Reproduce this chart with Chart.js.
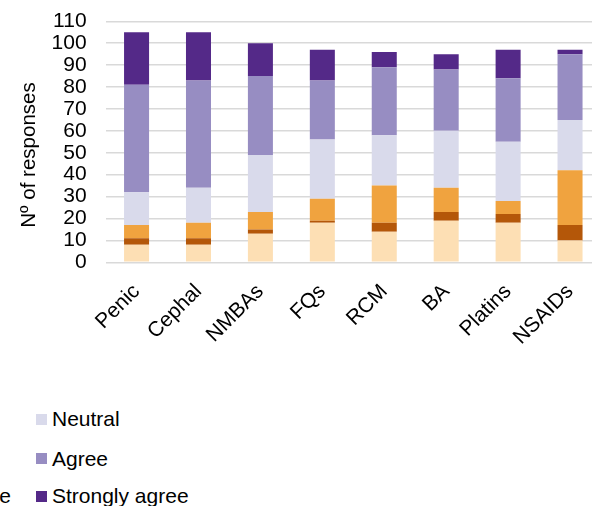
<!DOCTYPE html>
<html><head><meta charset="utf-8">
<script src="https://cdn.jsdelivr.net/npm/chart.js@4.4.1/dist/chart.umd.min.js"></script>
<style>
html,body{margin:0;padding:0;background:#fff;overflow:hidden;width:592px;height:506px;}
#wrap{position:absolute;left:0;top:0;width:601px;height:360px;}
.leg{position:absolute;top:0;font-family:"Liberation Sans",Arial,sans-serif;font-size:21px;color:#000;white-space:nowrap;width:max-content;height:506px;}
.item{position:absolute;left:0;display:flex;align-items:center;height:30px;}
.sw{width:11px;height:11px;margin-right:5px;flex:none;}
</style></head><body>
<div id="wrap"><canvas id="c"></canvas></div>
<div id="legL" class="leg"></div>
<div id="legR" class="leg" style="left:36px"></div>
<script>
const categories = ["Penic","Cephal","NMBAs","FQs","RCM","BA","Platins","NSAIDs"];
const seriesNames = ["Strongly disagree","Disagree","Somewhat disagree","Neutral","Agree","Strongly agree"];
const seriesColors = ["#FDDFB4","#B45709","#F0A33F","#D9DAEB","#978DC2","#542988"];
const stronglyDisagree = [8,8,13,18,14,19,18,10];
const disagree        = [3,3,2,1,4,4,4,7];
const somewhatDisagree= [6,7,8,10,17,11,6,25];
const neutral         = [15,16,26,27,23,26,27,23];
const agree           = [49,49,36,27,31,28,29,30];
const stronglyAgree   = [24,22,15,14,7,7,13,2];
const yTickLabels = ["0","10","20","30","40","50","60","70","80","90","100","110"];
const yTitle = "Nº of responses";

const seriesValues = [stronglyDisagree,disagree,somewhatDisagree,neutral,agree,stronglyAgree];

Chart.defaults.font.family = "'Liberation Sans', Arial, sans-serif";
Chart.defaults.font.size = 21;
Chart.defaults.color = "#000";

const titlePlugin = {
  id:'ytitle',
  afterDraw(chart){
    const ctx = chart.ctx;
    ctx.save();
    ctx.font = "20.5px 'Liberation Sans', Arial, sans-serif";
    ctx.fillStyle = "#000";
    ctx.translate(35, 155);
    ctx.rotate(-Math.PI/2);
    ctx.textAlign = 'center';
    ctx.textBaseline = 'alphabetic';
    ctx.fillText(yTitle, 0, 0);
    ctx.restore();
  }
};

const chart = new Chart(document.getElementById('c'), {
  type:'bar',
  data:{
    labels: categories,
    datasets: seriesNames.map((n,i)=>({
      label:n, data:seriesValues[i], backgroundColor:seriesColors[i],
      borderWidth:0, barPercentage:0.404, categoryPercentage:1
    }))
  },
  options:{
    responsive:true, maintainAspectRatio:false, animation:false,
    layout:{padding:{top:21.3,left:0,right:0,bottom:0}},
    plugins:{legend:{display:false}, tooltip:{enabled:false}},
    scales:{
      x:{
        stacked:true,
        grid:{display:false, drawTicks:false},
        border:{display:false},
        ticks:{minRotation:45,maxRotation:45,padding:17,autoSkip:false},
        afterFit(s){ s.height = 360-262.3; s.paddingLeft=0; s.paddingRight=0; }
      },
      y:{
        stacked:true, min:0, max:110,
        grid:{color:'#d9d9d9', lineWidth:1.5, drawTicks:false},
        border:{display:false},
        ticks:{stepSize:10, padding:19, autoSkip:false, callback:(v,i)=>yTickLabels[i]},
        afterFit(s){ s.width = 105.6; s.paddingTop=0; s.paddingBottom=0; }
      }
    }
  },
  plugins:[titlePlugin]
});

function buildLegend(el, idxs){
  const rows=[419,458.5,496];
  idxs.forEach((k,r)=>{
    const it=document.createElement('div');
    it.className='item';
    it.style.top=(rows[r]-15)+'px';
    const sw=document.createElement('span');
    sw.className='sw'; sw.style.background=chart.data.datasets[k].backgroundColor;
    const tx=document.createElement('span'); tx.textContent=chart.data.datasets[k].label;
    it.appendChild(sw); it.appendChild(tx); el.appendChild(it);
  });
}
const legL=document.getElementById('legL');
const legR=document.getElementById('legR');
buildLegend(legL,[0,1,2]);
buildLegend(legR,[3,4,5]);
// place left column so that its widest text ends at x=11
let maxW=0; legL.querySelectorAll('.item').forEach(e=>{maxW=Math.max(maxW,e.getBoundingClientRect().width);});
legL.style.left=(11-maxW)+'px';
</script>
</body></html>
